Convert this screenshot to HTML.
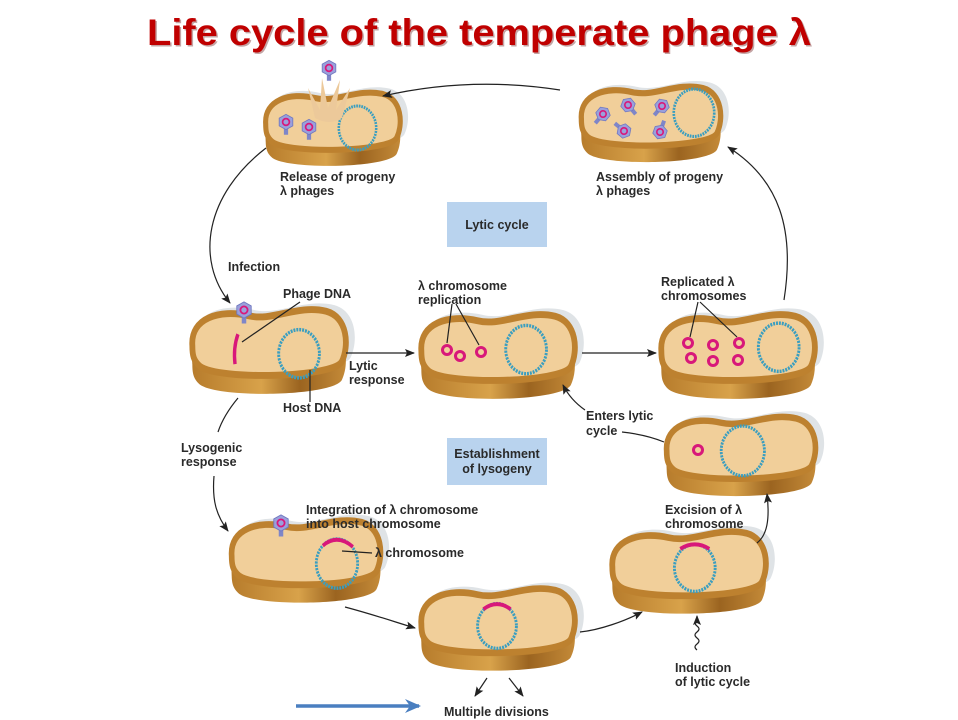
<!DOCTYPE html>
<html><head><meta charset="utf-8"><style>
html,body{margin:0;padding:0;background:#fff}
svg{display:block}
text{font-family:"Liberation Sans",sans-serif;font-weight:bold;fill:#2a2a2a;font-size:12.5px}
</style></head><body>
<svg width="958" height="720" viewBox="0 0 958 720" xmlns="http://www.w3.org/2000/svg">
<defs>
<linearGradient id="rim" x1="0" y1="0" x2="1" y2="0">
<stop offset="0" stop-color="#b77c2c"/><stop offset="0.45" stop-color="#d8a24a"/><stop offset="0.7" stop-color="#9b6420"/><stop offset="1" stop-color="#c48a38"/>
</linearGradient>
<path id="top" d="M-78,-2 C-80,-26 -50,-34 -20,-28 C5,-23 30,-38 60,-32 C82,-27 84,-2 76,12 C66,26 -50,28 -70,16 C-77,11 -78,6 -78,-2 Z"/>
<g id="c">
<use href="#top" transform="translate(6,-4) scale(1.04)" fill="#dfe3e6"/>
<use href="#top" transform="translate(0,16)" fill="url(#rim)"/>
<use href="#top" transform="translate(0,12)" fill="url(#rim)"/>
<use href="#top" transform="translate(0,8)" fill="url(#rim)"/>
<use href="#top" transform="translate(0,4)" fill="url(#rim)"/>
<use href="#top" fill="#f1cf9a" stroke="#bd812f" stroke-width="6"/>
</g>
<g id="ph">
<rect x="-2.5" y="4" width="5" height="11" fill="#7f86c8"/>
<polygon points="0,-9 8,-4.5 8,4.5 0,9 -8,4.5 -8,-4.5" fill="#9aa0dc" stroke="#7078c0" stroke-width="1"/>
<circle r="4" fill="none" stroke="#d8187a" stroke-width="2"/>
</g>
<marker id="a" markerWidth="10" markerHeight="8" refX="9" refY="4" orient="auto" markerUnits="userSpaceOnUse">
<path d="M0,0 L10,4 L0,8 L2,4 Z" fill="#222"/></marker>
<marker id="b" markerWidth="16" markerHeight="14" refX="14" refY="7" orient="auto" markerUnits="userSpaceOnUse">
<path d="M0,0 L16,7 L0,14 L5,7 Z" fill="#4a7fc0"/></marker>
</defs>

<text x="479" y="45" text-anchor="middle" style="font-size:37px;fill:#5a0000;opacity:.35" textLength="664" lengthAdjust="spacingAndGlyphs" transform="translate(1.5,1.5)">Life cycle of the temperate phage λ</text>
<text x="479" y="45" text-anchor="middle" style="font-size:37px;fill:#c00000" textLength="664" lengthAdjust="spacingAndGlyphs">Life cycle of the temperate phage λ</text>

<rect x="447" y="202" width="100" height="45" fill="#b9d3ee"/>
<text x="497" y="229" text-anchor="middle">Lytic cycle</text>
<rect x="447" y="438" width="100" height="47" fill="#b9d3ee"/>
<text x="497" y="458" text-anchor="middle">Establishment</text>
<text x="497" y="473" text-anchor="middle">of lysogeny</text>

<g transform="translate(332,126) scale(.85,1.0)"><use href="#c"/>
<circle cx="30" cy="2" r="22" fill="none" stroke="#3a9ec0" stroke-width="3" stroke-dasharray="2 1"/></g>
<path d="M315,118 L308,88 L320,110 L322,78 L328,108 L340,80 L336,110 L350,88 L342,118 Q330,126 315,118 Z" fill="#ecc99a"/>
<use href="#ph" transform="translate(286,122) scale(.85)"/>
<use href="#ph" transform="translate(309,127) scale(.85)"/>
<use href="#ph" transform="translate(329,68) scale(.85)"/>

<g transform="translate(650,121) scale(.88,1.03)"><use href="#c"/>
<circle cx="50" cy="-8" r="23" fill="none" stroke="#3a9ec0" stroke-width="3" stroke-dasharray="2 1"/></g>
<use href="#ph" transform="translate(603,114) rotate(40) scale(.8)"/>
<use href="#ph" transform="translate(628,105) rotate(-40) scale(.8)"/>
<use href="#ph" transform="translate(662,106) rotate(40) scale(.8)"/>
<use href="#ph" transform="translate(624,131) rotate(130) scale(.8)"/>
<use href="#ph" transform="translate(660,132) rotate(200) scale(.8)"/>

<g transform="translate(268,348) scale(.97,1.15)"><use href="#c"/>
<circle cx="32" cy="5" r="21" fill="none" stroke="#3a9ec0" stroke-width="3" stroke-dasharray="2 1"/>
<path d="M-31,-12 Q-36,0 -34,14" fill="none" stroke="#d8187a" stroke-width="3.5"/></g>
<use href="#ph" transform="translate(244,310) scale(.9)"/>

<g transform="translate(497,353) scale(.97,1.15)"><use href="#c"/>
<circle cx="30" cy="-3" r="21" fill="none" stroke="#3a9ec0" stroke-width="3" stroke-dasharray="2 1"/></g>
<g fill="none" stroke="#d8187a" stroke-width="3">
<circle cx="447" cy="350" r="4.5"/><circle cx="460" cy="356" r="4.5"/><circle cx="481" cy="352" r="4.5"/></g>

<g transform="translate(737,353) scale(.97,1.15)"><use href="#c"/>
<circle cx="43" cy="-5" r="21" fill="none" stroke="#3a9ec0" stroke-width="3" stroke-dasharray="2 1"/></g>
<g fill="none" stroke="#d8187a" stroke-width="3">
<circle cx="688" cy="343" r="4.5"/><circle cx="713" cy="345" r="4.5"/><circle cx="739" cy="343" r="4.5"/>
<circle cx="691" cy="358" r="4.5"/><circle cx="713" cy="361" r="4.5"/><circle cx="738" cy="360" r="4.5"/></g>

<g transform="translate(740,453) scale(.94,1.08)"><use href="#c"/>
<circle cx="3" cy="-2" r="23" fill="none" stroke="#3a9ec0" stroke-width="3" stroke-dasharray="2 1"/></g>
<circle cx="698" cy="450" r="4.5" fill="none" stroke="#d8187a" stroke-width="3"/>

<g transform="translate(305,558) scale(.94,1.12)"><use href="#c"/>
<circle cx="34" cy="5" r="22" fill="none" stroke="#3a9ec0" stroke-width="3" stroke-dasharray="2 1"/>
<path d="M19,-11 Q34,-22 51,-10" fill="none" stroke="#d8187a" stroke-width="3.5"/></g>
<use href="#ph" transform="translate(281,523) scale(.9)"/>

<g transform="translate(497,626) scale(.97,1.12)"><use href="#c"/>
<circle cx="0" cy="0" r="20" fill="none" stroke="#3a9ec0" stroke-width="3" stroke-dasharray="2 1"/>
<path d="M-14,-15 Q0,-24 14,-15" fill="none" stroke="#d8187a" stroke-width="3.5"/></g>

<g transform="translate(688,569) scale(.97,1.12)"><use href="#c"/>
<circle cx="7" cy="-1" r="21" fill="none" stroke="#3a9ec0" stroke-width="3" stroke-dasharray="2 1"/>
<path d="M-8,-18 Q7,-26 22,-18" fill="none" stroke="#d8187a" stroke-width="3.5"/></g>

<g fill="none" stroke="#222" stroke-width="1.2">
<path d="M560,90 Q470,76 383,96" marker-end="url(#a)"/>
<path d="M266,148 C205,195 195,260 230,303" marker-end="url(#a)"/>
<path d="M784,300 C795,230 780,180 728,147" marker-end="url(#a)"/>
<path d="M346,353 L414,353" marker-end="url(#a)"/>
<path d="M582,353 L656,353" marker-end="url(#a)"/>
<path d="M585,410 C575,403 568,395 563,385" marker-end="url(#a)"/>
<path d="M622,432 C640,434 652,437 664,442"/>
<path d="M238,398 C228,410 222,420 218,432"/>
<path d="M214,476 C212,500 216,515 228,531" marker-end="url(#a)"/>
<path d="M345,607 C375,615 395,622 415,628" marker-end="url(#a)"/>
<path d="M580,632 C600,630 625,621 642,612" marker-end="url(#a)"/>
<path d="M757,543 C767,535 770,520 767,494" marker-end="url(#a)"/>
<path d="M697,650 q-4,-3 0,-6 q4,-3 0,-6 q-4,-3 0,-6 q4,-3 0,-6 q-4,-3 0,-6 L697,616" marker-end="url(#a)"/>
<path d="M487,678 L475,696" marker-end="url(#a)"/>
<path d="M509,678 L523,696" marker-end="url(#a)"/>
<path d="M300,302 L242,342"/>
<path d="M310,370 L310,402"/>
<path d="M452,304 L447,343 M456,304 L479,345"/>
<path d="M698,302 L690,337 M700,302 L737,337"/>
<path d="M342,551 L372,553"/>
</g>
<path d="M296,706 L419,706" stroke="#4a7fc0" stroke-width="3.5" fill="none" marker-end="url(#b)"/>

<text x="280" y="181">Release of progeny</text><text x="280" y="195">λ phages</text>
<text x="596" y="181">Assembly of progeny</text><text x="596" y="195">λ phages</text>
<text x="228" y="271">Infection</text>
<text x="283" y="298">Phage DNA</text>
<text x="418" y="290">λ chromosome</text><text x="418" y="304">replication</text>
<text x="661" y="286">Replicated λ</text><text x="661" y="300">chromosomes</text>
<text x="349" y="370">Lytic</text><text x="349" y="384">response</text>
<text x="283" y="412">Host DNA</text>
<text x="586" y="420">Enters lytic</text><text x="586" y="435">cycle</text>
<text x="181" y="452">Lysogenic</text><text x="181" y="466">response</text>
<text x="306" y="514">Integration of λ chromosome</text><text x="306" y="528">into host chromosome</text>
<text x="375" y="557">λ chromosome</text>
<text x="665" y="514">Excision of λ</text><text x="665" y="528">chromosome</text>
<text x="675" y="672">Induction</text><text x="675" y="686">of lytic cycle</text>
<text x="444" y="716">Multiple divisions</text>
</svg>
</body></html>
